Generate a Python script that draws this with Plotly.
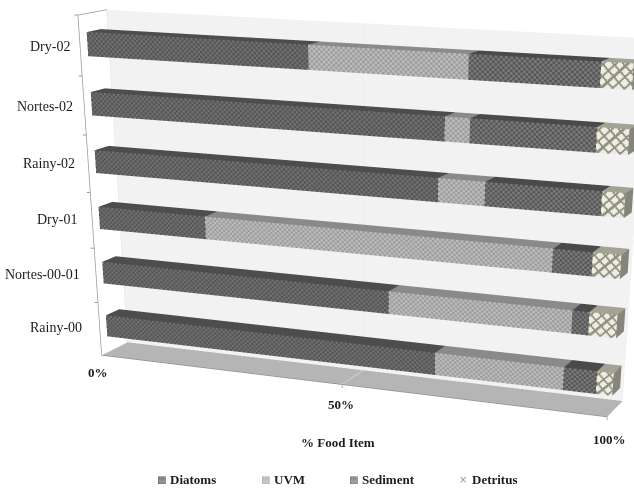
import numpy as np
import plotly.graph_objects as go

categories = ["Rainy-00", "Nortes-00-01", "Dry-01", "Rainy-02", "Nortes-02", "Dry-02"]
diatoms = [67, 58, 22, 67, 68, 43]
uvm = [24, 34, 66, 8.5, 4.5, 29]
sediment = [6, 3, 7, 20.5, 22, 22.6]
detritus = [3, 5, 5, 4, 5.5, 5.4]
tick_values = [0, 50, 100]

# scene camera and viewport
ay, az = 0.1020, 0.6050
eye = (1.2748, -3.0306, 0.6432)
center = (0.3414, -0.6137, -0.7293)
up = (-0.1023, 0.2373, 1)
VIEW_H = 1500
VIEW_TOP = 8
VIEW_CX = 401.8773

fw = 2 * VIEW_CX
fh = VIEW_H + VIEW_TOP
PXW = lambda X: X / fw
PXH = lambda Y: 1 - Y / fh
FONT = "Liberation Serif"
INK = "#1c1c1c"
fig = go.Figure()
light = dict(ambient=1, diffuse=0, specular=0, fresnel=0, roughness=1)
TOP = {"d": "#4d4d4d", "u": "#8a8a8a", "s": "#4a4a4a", "t": "#a3a294"}


def front_colour(k, i, j):
    if k == "t":
        a, b = i * 1.15, j * 1.15
        return "#8f8f84" if ((a + b) % 10 < 2.4 or (a - b) % 10 < 2.4) else "#eeeddf"
    pal = {"d": ("#555555", "#707070"), "u": ("#9c9c9c", "#bcbcbc"), "s": ("#565656", "#7a7a7a")}[k]
    return pal[(i + j) % 2]


def add_box(L, k, x0, x1, y0, y1, z0, z1):
    vx, vy, vz, ii, jj, kk, fc = L
    n = len(vx)
    for a in [x0, x1]:
        for b in [y0, y1]:
            for cc in [z0, z1]:
                vx.append(a); vy.append(b); vz.append(cc)
    idx = lambda a, b, cc: n + 4 * a + 2 * b + cc
    F = [((0, 0, 1), (1, 0, 1), (1, 1, 1), (0, 1, 1), TOP[k]),
         ((1, 0, 0), (1, 1, 0), (1, 1, 1), (1, 0, 1), "#85857b" if k == "t" else TOP[k])]
    for A, B, C, D, col in F:
        for tri in [(A, B, C), (A, C, D)]:
            ii.append(idx(*tri[0])); jj.append(idx(*tri[1])); kk.append(idx(*tri[2])); fc.append(col)
    cell, nz = (0.22, 20) if k == "t" else (0.45, 10)
    nx = max(1, int(round((x1 - x0) / cell)))
    n = len(vx)
    for i in range(nx + 1):
        for j in range(nz + 1):
            vx.append(x0 + (x1 - x0) * i / nx); vy.append(y0); vz.append(z0 + (z1 - z0) * j / nz)
    for i in range(nx):
        for j in range(nz):
            a = n + i * (nz + 1) + j
            b = a + nz + 1
            col = front_colour(k, i, j)
            ii += [a, a]; jj += [b, b + 1]; kk += [b + 1, a + 1]; fc += [col, col]


def quad(xs, ys, zs, col):
    fig.add_trace(go.Mesh3d(x=xs, y=ys, z=zs, i=[0, 0], j=[1, 2], k=[2, 3], color=col, flatshading=True,
                            lighting=light, hoverinfo="skip", showlegend=False))


def line(xs, ys, zs, col, w=1.5):
    fig.add_trace(go.Scatter3d(x=xs, y=ys, z=zs, mode="lines", line=dict(color=col, width=w),
                               hoverinfo="skip", showlegend=False))


quad([0, 100, 100, 0], [1, 1, 1, 1], [0, 0, 1, 1], "#f2f2f2")
quad([0, 100, 100, 0], [0, 0, 1, 1], [0, 0, 0, 0], "#b5b5b5")
line([50, 50, 50], [0, 1, 1], [0, 0, 1], "#e2e2e2")
line([50, 50], [0, .99], [.001, .001], "#d8d8d8")
line([0, 0, 0], [1, 0, 0], [1, 1, 0], "#9a9a9a")
line([0, 0], [1, 1], [0, 1], "#e0e0e0")
line([0, 100], [0, 0], [0, 0], "#8f8f8f")

series = [("Diatoms", diatoms, "d"), ("UVM", uvm, "u"), ("Sediment", sediment, "s"), ("Detritus", detritus, "t")]
base = np.zeros(6)
for name, vals, k in series:
    L = ([], [], [], [], [], [], [])
    for i, v in enumerate(vals):
        add_box(L, k, base[i], base[i] + v, .25, .75, (i + .3) / 6, (i + .7) / 6)
    base = base + np.array(vals)
    vx, vy, vz, ii, jj, kk, fc = L
    fig.add_trace(go.Mesh3d(x=vx, y=vy, z=vz, i=ii, j=jj, k=kk, facecolor=fc, flatshading=True, lighting=light,
                            name=name, hoverinfo="skip", showlegend=False))

anns = [dict(x=0, y=0, z=(i + .5) / 6, text=c, xanchor="right", xshift=-16 + 1.6 * i, yshift=2 - .6 * i, showarrow=False,
             font=dict(family=FONT, size=14, color=INK)) for i, c in enumerate(categories)]
anns += [dict(x=0, y=0, z=i / 6, text="", showarrow=True, arrowhead=0, arrowwidth=1, arrowcolor="#9a9a9a", ax=-5, ay=0)
         for i in range(1, 7)]
anns += [dict(x=v, y=0, z=0, text="", showarrow=True, arrowhead=0, arrowwidth=1, arrowcolor="#b0b0b0", ax=0, ay=5)
         for v in tick_values[1:]]
shifts = {0: (-4, -17), 50: (-1, -20), 100: (2, -23)}
anns += [dict(x=v, y=0, z=0, text=f"<b>{v}%</b>", showarrow=False, xshift=shifts[v][0], yshift=shifts[v][1],
              font=dict(family=FONT, size=13, color=INK)) for v in tick_values]

page = [dict(x=PXW(338), y=PXH(442), xref="paper", yref="paper", xanchor="center", yanchor="middle",
             text="<b>% Food Item</b>", showarrow=False, font=dict(family=FONT, size=13, color=INK))]
LEGEND = [("Diatoms", 168, "▩", "#555555"), ("UVM", 272, "▩", "#a8a8a8"), ("Sediment", 360, "▩", "#666666"), ("Detritus", 470, "×", "#999999")]
for name, X, glyph, col in LEGEND:
    page.append(dict(x=PXW(X), y=PXH(479), xref="paper", yref="paper", xanchor="left", yanchor="middle",
                     text=f"<b>{name}</b>", showarrow=False, font=dict(family=FONT, size=13, color=INK)))
    page.append(dict(x=PXW(X - 7), y=PXH(479), xref="paper", yref="paper", xanchor="center", yanchor="middle",
                     text=glyph, showarrow=False, font=dict(family="DejaVu Sans", size=10, color=col)))

fig.update_layout(
    width=fw, height=fh, margin=dict(l=0, r=0, t=0, b=0), paper_bgcolor="white", showlegend=False,
    scene=dict(domain=dict(x=[0, 1], y=[0, VIEW_H / fh]), aspectmode="manual", aspectratio=dict(x=1, y=ay, z=az),
               camera=dict(eye=dict(x=eye[0], y=eye[1], z=eye[2]), center=dict(x=center[0], y=center[1], z=center[2]),
                           up=dict(x=up[0], y=up[1], z=up[2]), projection=dict(type="perspective")),
               xaxis=dict(range=[0, 100], visible=False), yaxis=dict(range=[0, 1], visible=False),
               zaxis=dict(range=[0, 1], visible=False), annotations=anns),
    annotations=page)
fig.write_html("out.html", config={"displayModeBar": False}, post_script="document.body.style.margin='0';")
